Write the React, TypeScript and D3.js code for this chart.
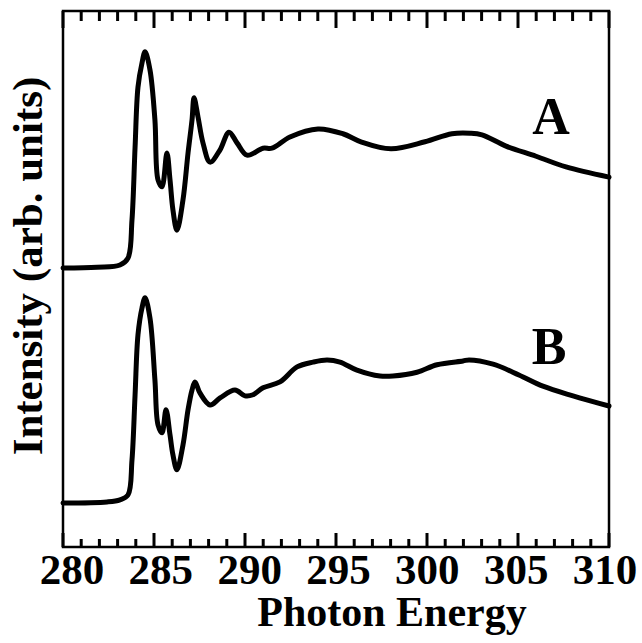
import React from 'react';
import * as d3 from 'd3';

// photon energy (eV) and intensity (arb.)
const energyA = [280, 281.87, 283.13, 283.57, 283.79, 283.96, 284.12, 284.34, 284.51, 284.78, 285.05, 285.22, 285.44, 285.71, 285.88, 286.04, 286.26, 286.59, 286.87, 287.09, 287.2, 287.42, 287.69, 288.08, 288.63, 289.12, 289.56, 290.11, 290.99, 291.48, 292.47, 294.01, 295.38, 296.37, 298.02, 299.89, 301.37, 302.36, 303.02, 304.34, 305.99, 307.64, 310];
const intensityA = [52.05, 52.2, 52.6, 53.9, 61.0, 74.6, 85.8, 90.3, 92.4, 89.0, 79.7, 68.5, 67.2, 73.5, 68.5, 62.9, 59.1, 64.7, 73.5, 79.7, 83.8, 80.2, 75.4, 71.8, 74.1, 77.4, 75.4, 73.1, 74.4, 74.4, 76.5, 78.0, 77.1, 75.6, 74.3, 75.6, 77.1, 77.2, 76.9, 74.8, 72.9, 70.9, 69.0];

const energyB = [280, 282.42, 283.13, 283.57, 283.79, 283.96, 284.12, 284.34, 284.51, 284.78, 285.05, 285.22, 285.44, 285.66, 285.88, 286.04, 286.26, 286.59, 286.87, 287.09, 287.25, 287.53, 288.08, 288.63, 289.45, 290.0, 290.44, 290.99, 291.92, 292.86, 293.74, 294.51, 295.22, 296.15, 297.42, 298.13, 299.45, 300.55, 301.98, 302.31, 303.63, 305.05, 306.37, 308.02, 310];
const intensityB = [8.2, 8.4, 8.8, 9.7, 16.2, 28.4, 39.6, 44.6, 46.5, 42.7, 31.2, 22.8, 21.3, 25.6, 20.9, 17.2, 14.4, 19.0, 25.6, 29.3, 30.8, 28.7, 26.5, 27.8, 29.3, 28.2, 28.4, 29.7, 30.8, 33.6, 34.5, 34.9, 34.5, 33.0, 31.9, 31.9, 32.6, 34.0, 34.7, 34.9, 34.1, 32.1, 30.0, 28.2, 26.3];

const xTickLabels = [280, 285, 290, 295, 300, 305, 310];
const xTicks = d3.range(280, 311);

export default function App() {
    const width = 642, height = 643;
    const left = 63, right = 609, top = 11, bottom = 547;
    const font = '"Liberation Serif", "Times New Roman", serif';

    const x = d3.scaleLinear().domain([280, 310]).range([left, right]);
    const y = d3.scaleLinear().domain([0, 100]).range([bottom, top]);
    // tick labels sit a little inside the frame ends
    const xl = d3.scaleLinear().domain([280, 310]).range([72, 605]);

    const curve = d3.line<[number, number]>()
        .x(d => x(d[0]))
        .y(d => y(d[1]))
        .curve(d3.curveCatmullRom.alpha(0.5));

    const pathA = curve(energyA.map((e, i) => [e, intensityA[i]] as [number, number])) || '';
    const pathB = curve(energyB.map((e, i) => [e, intensityB[i]] as [number, number])) || '';

    return (
        <svg width={width} height={height} style={{position: 'absolute', left: 0, top: 0, background: '#fff'}}>
            {xTicks.map(t => (
                <line key={'tt' + t} x1={x(t)} x2={x(t)} y1={top} y2={top + (t % 5 === 0 ? 17 : 10)}
                      stroke="#000" strokeWidth={3}/>
            ))}
            {xTicks.map(t => (
                <line key={'tb' + t} x1={x(t)} x2={x(t)} y1={bottom} y2={bottom - (t % 5 === 0 ? 14 : 8)}
                      stroke="#000" strokeWidth={3}/>
            ))}
            <rect x={left} y={top} width={right - left} height={bottom - top} fill="none" stroke="#000" strokeWidth={2.5}/>
            {xTickLabels.map(t => (
                <text key={t} x={xl(t)} y={584} textAnchor="middle" fontFamily={font} fontWeight="bold" fontSize={43}>{t}</text>
            ))}
            <text x={392} y={626} textAnchor="middle" fontFamily={font} fontWeight="bold" fontSize={42}>Photon Energy</text>
            <text transform="translate(42,266) rotate(-90)" textAnchor="middle" fontFamily={font} fontWeight="bold" fontSize={43}>Intensity (arb. units)</text>

            <path d={pathA} fill="none" stroke="#000" strokeWidth={5} strokeLinejoin="round" strokeLinecap="round"/>
            <path d={pathB} fill="none" stroke="#000" strokeWidth={5} strokeLinejoin="round" strokeLinecap="round"/>

            <text x={551} y={134} textAnchor="middle" fontFamily={font} fontWeight="bold" fontSize={52}>A</text>
            <text x={549} y={364} textAnchor="middle" fontFamily={font} fontWeight="bold" fontSize={52}>B</text>
        </svg>
    );
}
